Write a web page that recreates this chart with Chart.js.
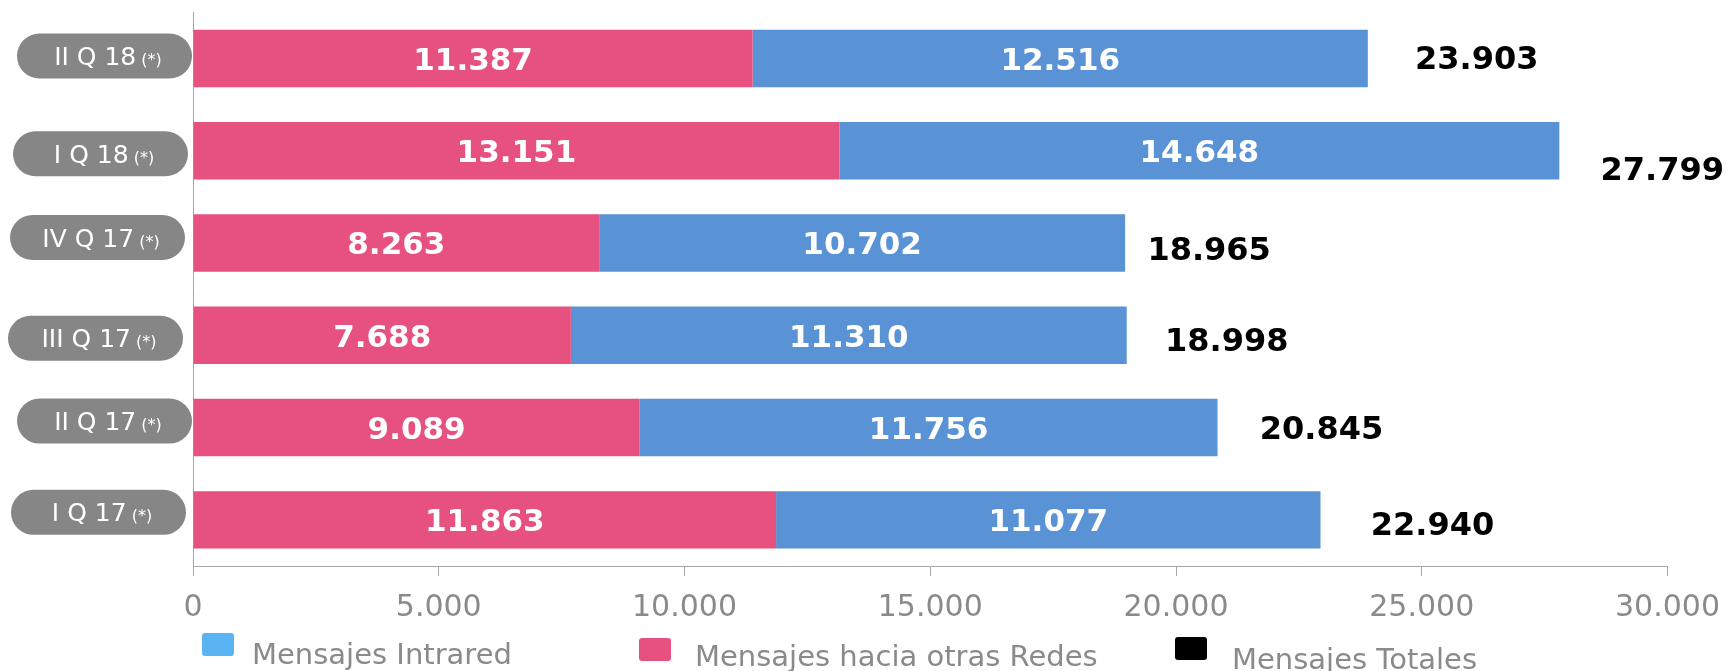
<!DOCTYPE html>
<html>
<head>
<meta charset="utf-8">
<script src="https://cdn.jsdelivr.net/npm/chart.js@4.4.1/dist/chart.umd.min.js"></script>
<style>
html,body{margin:0;padding:0;background:#fff;}
#wrap{width:1727px;height:671px;position:relative;}
</style>
</head>
<body>
<div id="wrap"><canvas id="c"></canvas></div>
<script>
// ---- data ----
const categories = ['II Q 18 (*)', 'I Q 18 (*)', 'IV Q 17 (*)', 'III Q 17 (*)', 'II Q 17 (*)', 'I Q 17 (*)'];
const mensajesHaciaOtrasRedes = [11387, 13151, 8263, 7688, 9089, 11863];
const mensajesIntrared = [12516, 14648, 10702, 11310, 11756, 11077];
const mensajesTotales = [23903, 27799, 18965, 18998, 20845, 22940];
const xMin = 0, xMax = 30000, xStep = 5000;
const seriesNames = ['Mensajes hacia otras Redes', 'Mensajes Intrared', 'Mensajes Totales'];

// ---- styles ----
const PINK = '#E6517F', BLUE = '#5A93D5', LEG_BLUE = '#5AB3F2';
const AXIS = '#A6A6A6', TICK_TXT = '#8A8A8A';
const fmt = n => String(n).replace(/\B(?=(\d{3})+(?!\d))/g, '.');

const segmentLabels = {
  id: 'segmentLabels',
  afterDatasetsDraw(chart) {
    const ctx = chart.ctx;
    const fs = 31;
    ctx.save();
    ctx.font = 'bold ' + fs + 'px "DejaVu Sans"';
    ctx.fillStyle = '#FFFFFF';
    ctx.textAlign = 'center';
    ctx.textBaseline = 'alphabetic';
    [0, 1].forEach(di => {
      chart.getDatasetMeta(di).data.forEach((el, i) => {
        const p = el.getProps(['x', 'y', 'base'], true);
        ctx.fillText(fmt(chart.data.datasets[di].data[i]), (p.x + p.base) / 2, p.y + fs * 0.365);
      });
    });
    ctx.restore();
  }
};

const totalLabels = {
  id: 'totalLabels',
  afterDatasetsDraw(chart, args, opts) {
    const ctx = chart.ctx;
    const fs = 32;
    ctx.save();
    ctx.font = 'bold ' + fs + 'px "DejaVu Sans"';
    ctx.fillStyle = '#000000';
    ctx.textAlign = 'center';
    ctx.textBaseline = 'alphabetic';
    chart.getDatasetMeta(2).data.forEach((el, i) => {
      const p = el.getProps(['x', 'y'], true);
      ctx.fillText(fmt(chart.data.datasets[2].data[i]), p.x + opts.dx[i], p.y + opts.dy[i] + fs * 0.365);
    });
    ctx.restore();
  }
};

const pillLabels = {
  id: 'pillLabels',
  afterDraw(chart, args, opts) {
    const ctx = chart.ctx;
    const ys = chart.scales.y;
    const left = chart.chartArea.left;
    ctx.save();
    chart.data.labels.forEach((lab, i) => {
      const cy = ys.getPixelForTick(i) + opts.dy[i];
      const right = left + opts.dxRight[i];
      const w = opts.width, h = opts.height, r = h / 2;
      const x0 = right - w, y0 = cy - h / 2;
      ctx.beginPath();
      ctx.moveTo(x0 + r, y0);
      ctx.lineTo(right - r, y0);
      ctx.arc(right - r, cy, r, -Math.PI / 2, Math.PI / 2);
      ctx.lineTo(x0 + r, y0 + h);
      ctx.arc(x0 + r, cy, r, Math.PI / 2, Math.PI * 1.5);
      ctx.closePath();
      ctx.fillStyle = '#868686';
      ctx.fill();
      const k = lab.indexOf(' (');
      const main = lab.slice(0, k), suf = lab.slice(k);
      ctx.font = '25px "DejaVu Sans"';
      const w1 = ctx.measureText(main).width;
      ctx.font = '16px "DejaVu Sans"';
      const w2 = ctx.measureText(suf).width;
      const cx = (x0 + right) / 2 + 3.5;
      const sx = cx - (w1 + w2) / 2;
      const base = cy + 25 * 0.365;
      ctx.fillStyle = '#FFFFFF';
      ctx.textAlign = 'left';
      ctx.textBaseline = 'alphabetic';
      ctx.font = '25px "DejaVu Sans"';
      ctx.fillText(main, sx, base);
      ctx.font = '16px "DejaVu Sans"';
      ctx.fillText(suf, sx + w1, base);
    });
    ctx.restore();
  }
};

const customLegend = {
  id: 'customLegend',
  afterDraw(chart, args, opts) {
    const ctx = chart.ctx;
    ctx.save();
    ctx.font = '29px "DejaVu Sans"';
    ctx.textAlign = 'left';
    ctx.textBaseline = 'alphabetic';
    opts.items.forEach(it => {
      const ds = chart.data.datasets[it.dataset];
      ctx.fillStyle = it.color;
      ctx.beginPath();
      ctx.roundRect(it.boxX, it.boxY, 32, 23, 3);
      ctx.fill();
      ctx.fillStyle = TICK_TXT;
      ctx.fillText(ds.label, it.textX, it.baseline);
    });
    ctx.restore();
  }
};

new Chart(document.getElementById('c'), {
  type: 'bar',
  data: {
    labels: categories,
    datasets: [
      { label: seriesNames[0], data: mensajesHaciaOtrasRedes, backgroundColor: PINK, stack: 's', borderWidth: 0 },
      { label: seriesNames[1], data: mensajesIntrared, backgroundColor: BLUE, stack: 's', borderWidth: 0 },
      { label: seriesNames[2], data: mensajesTotales, type: 'line', indexAxis: 'y', stack: 'tot',
        showLine: false, pointRadius: 0, pointHoverRadius: 0, borderColor: '#000', backgroundColor: '#000' }
    ]
  },
  options: {
    indexAxis: 'y',
    responsive: true,
    maintainAspectRatio: false,
    animation: false,
    events: [],
    barPercentage: 0.623,
    categoryPercentage: 1.0,
    layout: { padding: { left: 193, right: 59.5, top: 12.4, bottom: 0 } },
    scales: {
      x: {
        type: 'linear', stacked: true, min: xMin, max: xMax,
        afterFit(s) { s.height = 105; s.paddingLeft = 0; s.paddingRight = 0; },
        ticks: { stepSize: xStep, maxRotation: 0, autoSkip: false, padding: 14, color: TICK_TXT,
          font: { family: 'DejaVu Sans', size: 30 }, callback: v => fmt(v) },
        grid: { drawOnChartArea: false, drawTicks: true, tickLength: 10, color: AXIS, lineWidth: 1 },
        border: { display: true, color: AXIS, width: 1 }
      },
      y: {
        type: 'category', stacked: true,
        afterFit(s) { s.width = 0; s.paddingTop = 0; s.paddingBottom = 0; },
        ticks: { display: false },
        grid: { display: false, drawTicks: false },
        border: { display: true, color: AXIS, width: 1 }
      }
    },
    plugins: {
      legend: { display: false },
      tooltip: { enabled: false },
      totalLabels: { dx: [109, 103, 84, 100, 104, 112], dy: [-1, 18, 5, 3.5, 0, 3.5] },
      pillLabels: { width: 175, height: 45, dxRight: [-1, -5, -8, -10, -1, -7], dy: [-2.5, 3, -5.5, 3, -6.5, -7.5] },
      customLegend: { items: [
        { dataset: 1, color: LEG_BLUE, boxX: 202, boxY: 633, textX: 252, baseline: 664 },
        { dataset: 0, color: PINK, boxX: 639, boxY: 638, textX: 695, baseline: 666 },
        { dataset: 2, color: '#000000', boxX: 1175, boxY: 637, textX: 1232, baseline: 669 }
      ] }
    }
  },
  plugins: [segmentLabels, totalLabels, pillLabels, customLegend]
});
</script>
</body>
</html>
